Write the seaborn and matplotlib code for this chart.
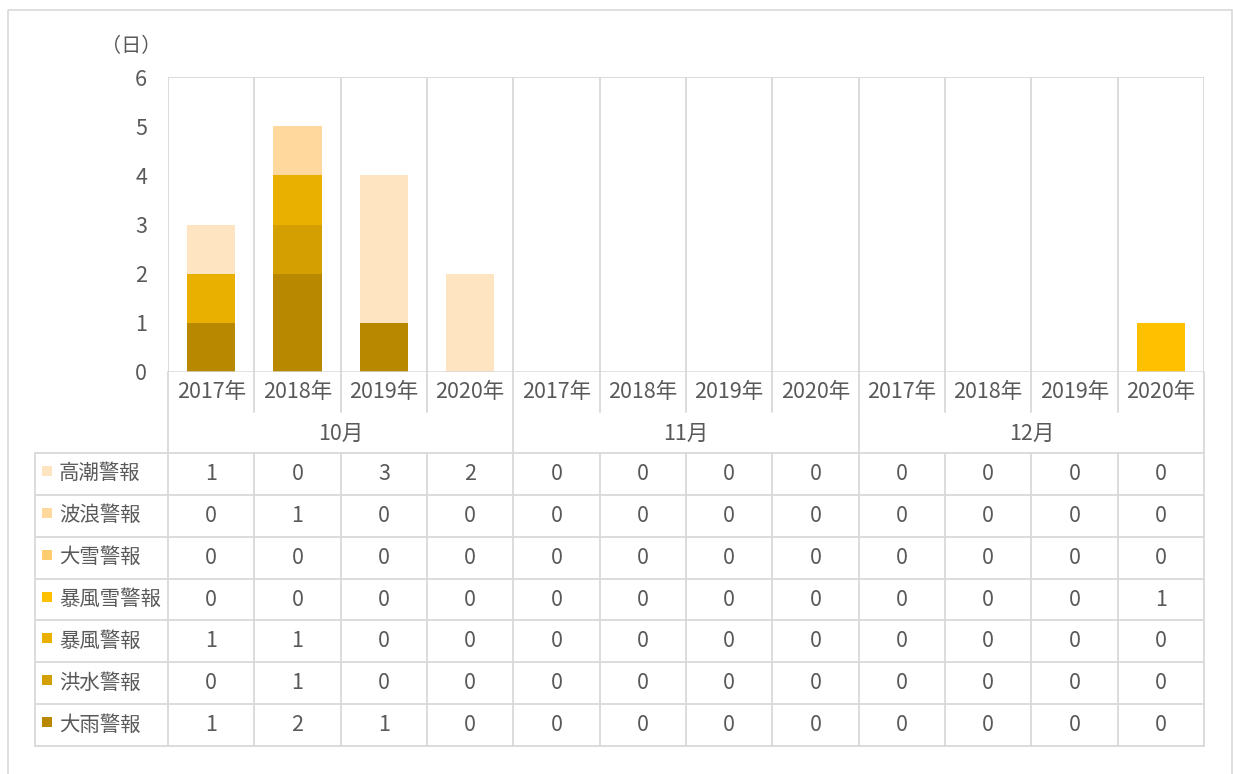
import pandas as pd
import matplotlib.pyplot as plt
import seaborn as sns

months = ["10月", "11月", "12月"]
years = ["2017年", "2018年", "2019年", "2020年"]

# table order (top -> bottom); stacking is the reverse
series_names = ["高潮警報", "波浪警報", "大雪警報", "暴風雪警報", "暴風警報", "洪水警報", "大雨警報"]
takashio = [1, 0, 3, 2, 0, 0, 0, 0, 0, 0, 0, 0]
haro = [0, 1, 0, 0, 0, 0, 0, 0, 0, 0, 0, 0]
oyuki = [0, 0, 0, 0, 0, 0, 0, 0, 0, 0, 0, 0]
bofusetsu = [0, 0, 0, 0, 0, 0, 0, 0, 0, 0, 0, 1]
bofu = [1, 1, 0, 0, 0, 0, 0, 0, 0, 0, 0, 0]
kozui = [0, 1, 0, 0, 0, 0, 0, 0, 0, 0, 0, 0]
ooame = [1, 2, 1, 0, 0, 0, 0, 0, 0, 0, 0, 0]
series_values = [takashio, haro, oyuki, bofusetsu, bofu, kozui, ooame]
colors = ["#FFE4C2", "#FFD89E", "#FFCC70", "#FFC000", "#EAB000", "#D49F00", "#B88900"]

W, H = 1233, 774
GRID = "#D9D9D9"
TXT = "#595959"
FS = 15.5

sns.set_theme(style="white")
plt.rcParams["font.family"] = ["Noto Sans CJK JP", "DejaVu Sans"]

keys = [f"{m}-{y}" for m in months for y in years]
df = pd.DataFrame({"key": keys})
for name, vals in zip(series_names, series_values):
    df[name] = vals

fig = plt.figure(figsize=(W / 100, H / 100), dpi=100)

# overlay axes in pixel coords for table and frame
ov = fig.add_axes([0, 0, 1, 1], zorder=0)
ov.set_xlim(0, W)
ov.set_ylim(H, 0)
ov.axis("off")

px0, px1, py0, py1 = 168, 1204, 77, 372
ax = fig.add_axes([px0 / W, 1 - py1 / H, (px1 - px0) / W, (py1 - py0) / H], zorder=1)
ax.patch.set_alpha(0)

# stacked bars: draw cumulative totals from top layer down
stack = list(zip(series_names, colors))[::-1]  # bottom -> top
cum = df[[n for n, _ in stack]].cumsum(axis=1)
for name, col in reversed(stack):
    sns.barplot(x=df["key"], y=cum[name], order=keys, color=col, saturation=1,
                width=0.56, errorbar=None, linewidth=0, ax=ax, zorder=3)

n = len(keys)
ax.set_xlim(-0.5, n - 0.5)
ax.set_ylim(0, 6)
ax.set_yticks(range(7))
ax.set_xticks([])
ax.set_xlabel("")
ax.set_ylabel("")
for s in ax.spines.values():
    s.set_visible(False)
ax.tick_params(axis="y", length=0, labelsize=FS, colors=TXT, pad=15)
for i in range(n + 1):
    ax.axvline(i - 0.5, color=GRID, lw=1.3, zorder=1)
ax.axhline(6, color=GRID, lw=1.3, zorder=1)
ax.axhline(0, color=GRID, lw=1.8, zorder=4)

ov.text(131, 47, "（日）", ha="center", va="center", fontsize=FS - 1, color=TXT)

# category labels and data table
cw = (px1 - px0) / n
row_year_bot, row_month_bot = 412, 453
rh = (746 - 453) / len(series_names)
lx = 35
for i in range(n):
    ov.text(px0 + (i + 0.5) * cw, 392, years[i % len(years)], ha="center", va="center",
            fontsize=FS, color=TXT)
for j, m in enumerate(months):
    ov.text(px0 + (j + 0.5) * len(years) * cw, 434, m, ha="center", va="center",
            fontsize=FS, color=TXT)
for i in range(n + 1):
    x = px0 + i * cw
    ov.plot([x, x], [py1, row_year_bot], color=GRID, lw=1.3)
    if i % len(years) == 0:
        ov.plot([x, x], [row_year_bot, row_month_bot], color=GRID, lw=1.3)
    ov.plot([x, x], [row_month_bot, 746], color=GRID, lw=1.3)
ov.plot([lx, lx], [row_month_bot, 746], color=GRID, lw=1.3)
for r in range(len(series_names) + 1):
    y = row_month_bot + r * rh
    ov.plot([lx, px1], [y, y], color=GRID, lw=1.3)
for r, (name, vals, col) in enumerate(zip(series_names, series_values, colors)):
    yc = row_month_bot + (r + 0.5) * rh
    ov.add_patch(plt.Rectangle((42, yc - 8), 10, 10, color=col, lw=0))
    ov.text(59, yc, name, ha="left", va="center", fontsize=FS - 0.8, color=TXT)
    for i, v in enumerate(vals):
        ov.text(px0 + (i + 0.5) * cw, yc, str(v), ha="center", va="center",
                fontsize=FS, color=TXT)

# chart frame
ov.add_patch(plt.Rectangle((8, 10), 1224, 800, fill=False, ec=GRID, lw=1.2))

fig.savefig("out.png", dpi=100)
